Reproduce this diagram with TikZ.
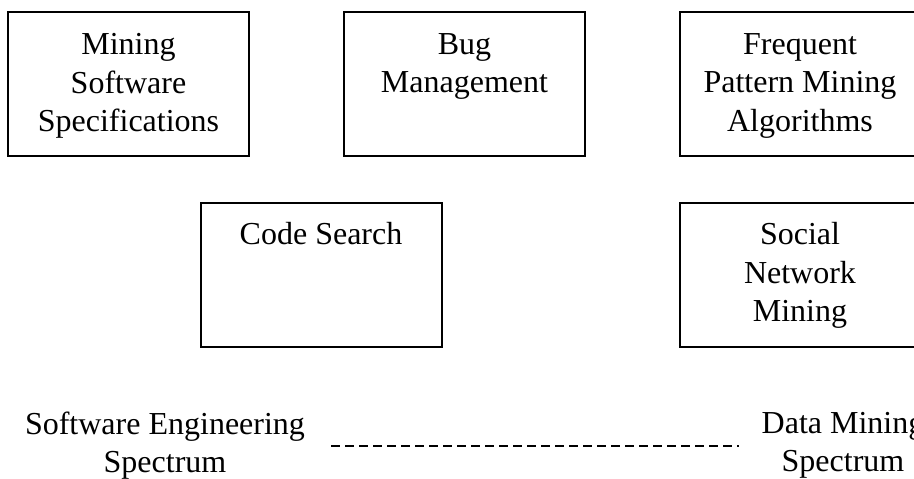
\documentclass[tikz,border=0pt]{standalone}
\usepackage{fontspec}
\setmainfont{Liberation Serif}
\usetikzlibrary{positioning}

\begin{document}
\begin{tikzpicture}[x=0.5pt, y=-0.5pt,
  areabox/.style={draw, line width=1pt, minimum width=120.5pt, minimum height=72pt, inner sep=0pt},
  areatext/.style={anchor=north, align=center, inner sep=0pt, font=\fontsize{16}{19.3}\selectfont},
  spectrum/.style={align=center, inner sep=0pt, font=\fontsize{16}{19}\selectfont}]
%\draw [help lines, step=10](0,0) grid (914,478);
\useasboundingbox (0,0) rectangle (914,478);
\clip (0,0) rectangle (914,478);

% research areas
\node [areabox] (spec) at (128.5,84) {};
\node [areabox] (bug) at (464.5,84) {};
\node [areabox] (freq) at (800,84) {};
\node [areabox] (code) at (321,275) {};
\node [areabox] (social) at (800,275) {};

\node [areatext, below=11pt of spec.north] (spectext) {Mining\\Software\\Specifications};
\node [areatext, below=11pt of bug.north] (bugtext) {Bug\\Management};
\node [areatext, below=11pt of freq.north] (freqtext) {Frequent\\Pattern Mining\\Algorithms};
\node [areatext, below=10pt of code.north] (codetext) {Code Search};
\node [areatext, below=10pt of social.north] (socialtext) {Social\\Network\\Mining};

% spectrum
\node [spectrum, anchor=north] (se) at (165,412) {Software Engineering\\Spectrum};
\node [spectrum, anchor=north] (dm) at (843,412) {Data Mining\\Spectrum};
\draw [dash pattern=on 4.5pt off 2.5pt, line width=0.6pt, shorten <=13pt, shorten >=11pt] (se.east) -- (dm.west |- se.east);

\end{tikzpicture}
\end{document}
